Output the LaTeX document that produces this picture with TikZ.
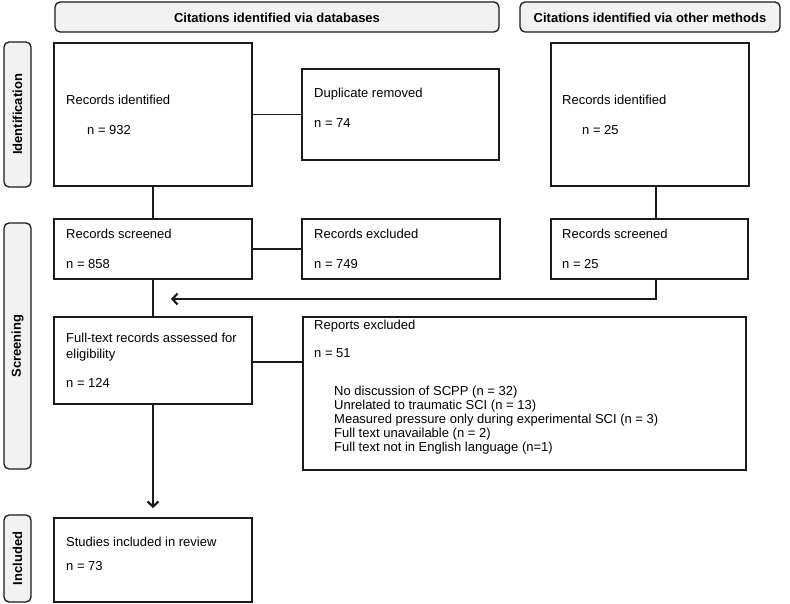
\documentclass[tikz,border=0pt]{standalone}
\usepackage{fontspec}
\setmainfont{Liberation Sans}
\usetikzlibrary{arrows.meta}
\definecolor{hdrfill}{HTML}{F2F2F2}
\definecolor{ink}{HTML}{1A1A1A}
\tikzset{
  box/.style={draw=ink, line width=1.3pt, rectangle, inner sep=0pt, outer sep=0pt, anchor=north west},
  hdr/.style={draw=ink, line width=1.3pt, fill=hdrfill, rounded corners=5pt, inner sep=0pt, outer sep=0pt, anchor=north west},
  txt/.style={anchor=base west, inner sep=0pt, font=\fontsize{13}{14}\selectfont},
  htxt/.style={inner sep=0pt, font=\fontsize{13}{14}\selectfont\bfseries},
  stxt/.style={inner sep=0pt, rotate=90, font=\fontsize{13}{14}\selectfont\bfseries},
  conn/.style={draw=ink, line width=1.3pt},
  arr/.style={conn, -{Straight Barb[length=5pt,width=11pt,line width=2.2pt]}}
}
\begin{document}
\begin{tikzpicture}[x=1pt,y=-1pt]
\useasboundingbox (0,0) rectangle (790,604);
% headers
\node[hdr, minimum width=444pt, minimum height=30pt] (h1) at (55,2) {};
\node[htxt] (h1t) at (277,17.5) {Citations identified via databases};
\node[hdr, minimum width=260pt, minimum height=30pt] (h2) at (520,2) {};
\node[htxt] (h2t) at (650,17.5) {Citations identified via other methods};
% side labels
\node[hdr, minimum width=27pt, minimum height=145pt] (s1) at (4,42) {};
\node[stxt] (s1t) at (17.5,114.5) {Identification};
\node[hdr, minimum width=27pt, minimum height=246pt] (s2) at (4,223) {};
\node[stxt] (s2t) at (17.5,346) {Screening};
\node[hdr, minimum width=27pt, minimum height=87pt] (s3) at (4,515) {};
\node[stxt] (s3t) at (17.5,558.5) {Included};
% boxes
\node[box, minimum width=198pt, minimum height=143pt] (recid) at (54,43) {};
\node[box, minimum width=197pt, minimum height=91pt] (dup) at (302,69) {};
\node[box, minimum width=198pt, minimum height=143pt] (recid2) at (551,43) {};
\node[box, minimum width=198pt, minimum height=60pt] (scr) at (54,219) {};
\node[box, minimum width=198pt, minimum height=60pt] (exc) at (302,219) {};
\node[box, minimum width=197pt, minimum height=60pt] (scr2) at (551,219) {};
\node[box, minimum width=198pt, minimum height=87pt] (full) at (54,317) {};
\node[box, minimum width=443pt, minimum height=153pt] (rep) at (303,317) {};
\node[box, minimum width=198pt, minimum height=84pt] (stud) at (54,518) {};
% texts
\node[txt] (t1) at (66,104.5) {Records identified};
\node[txt] (t2) at (87,134.5) {n = 932};
\node[txt] (t3) at (314,97.5) {Duplicate removed};
\node[txt] (t4) at (314,127.5) {n = 74};
\node[txt] (t5) at (562,104.5) {Records identified};
\node[txt] (t6) at (582,134.5) {n = 25};
\node[txt] (t7) at (66,238.5) {Records screened};
\node[txt] (t8) at (66,268.5) {n = 858};
\node[txt] (t9) at (314,238.5) {Records excluded};
\node[txt] (t10) at (314,268.5) {n = 749};
\node[txt] (t11) at (562,238.5) {Records screened};
\node[txt] (t12) at (562,268.5) {n = 25};
\node[txt] (t13) at (66,342.5) {Full-text records assessed for};
\node[txt] (t14) at (66,358.5) {eligibility};
\node[txt] (t15) at (66,387.5) {n = 124};
\node[txt] (t16) at (314,329.5) {Reports excluded};
\node[txt] (t17) at (314,357.5) {n = 51};
\node[txt] (t18) at (334,395.5) {No discussion of SCPP (n = 32)};
\node[txt] (t19) at (334,409.5) {Unrelated to traumatic SCI (n = 13)};
\node[txt] (t20) at (334,423.5) {Measured pressure only during experimental SCI (n = 3)};
\node[txt] (t21) at (334,437.5) {Full text unavailable (n = 2)};
\node[txt] (t22) at (334,451.5) {Full text not in English language (n=1)};
\node[txt] (t23) at (66,546.5) {Studies included in review};
\node[txt] (t24) at (66,570.5) {n = 73};
% connectors
\draw[conn] (recid) -- (dup);
\draw[conn] (recid) -- (scr);
\draw[conn] (scr) -- (exc);
\draw[conn] (scr) -- (full);
\draw[conn] (full.east |- 0,362) -- (rep.west |- 0,362);
\coordinate (c1) at (656,186);
\coordinate (c2) at (656,219);
\coordinate (c3) at (656,279);
\coordinate (c4) at (656,299);
\coordinate (c5) at (171,299);
\coordinate (c6) at (153,508);
\draw[conn] (c1) -- (c2);
\draw[arr] (c3) -- (c4) -- (c5);
\draw[arr] (full.south) -- (c6);
\end{tikzpicture}
\end{document}
